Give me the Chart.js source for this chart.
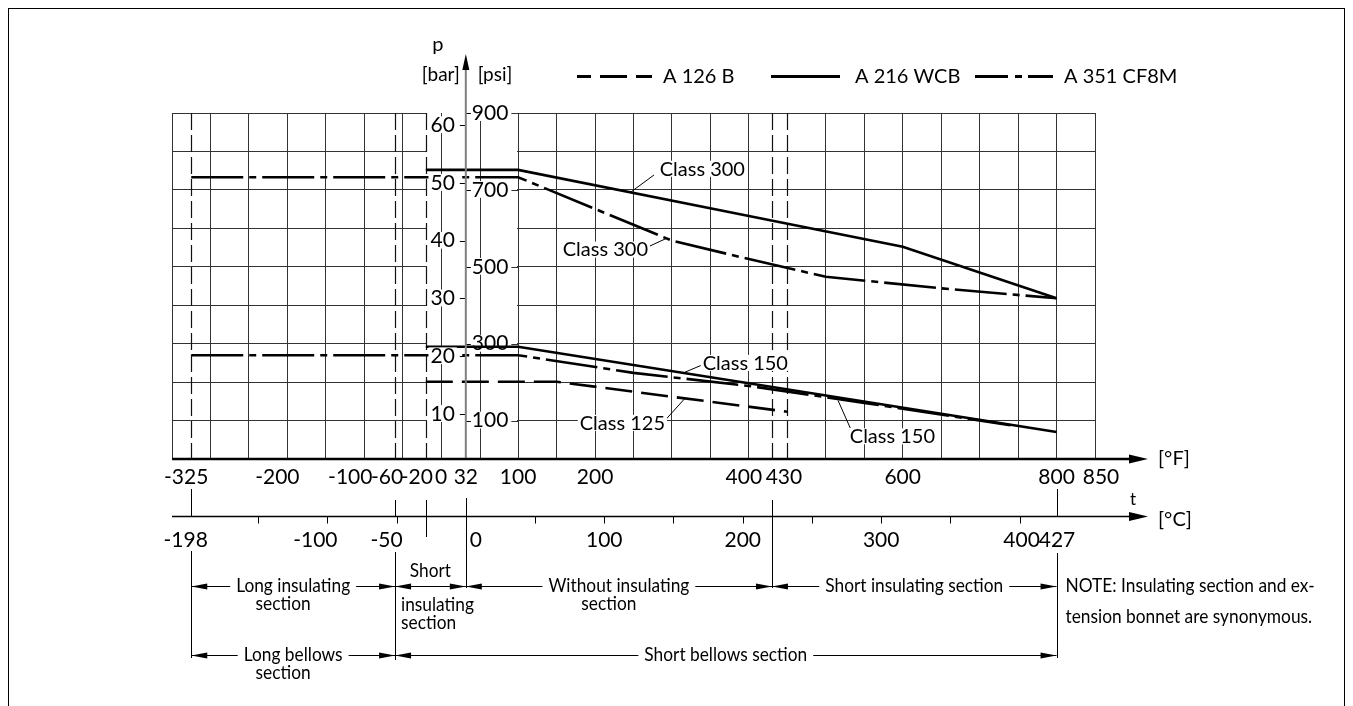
<!DOCTYPE html>
<html>
<head>
<meta charset="utf-8">
<style>
  html, body { margin: 0; padding: 0; background: #fff; }
  #wrap { width: 1353px; height: 706px; }
</style>
<script src="https://cdn.jsdelivr.net/npm/chart.js@4.4.1/dist/chart.umd.min.js"></script>
</head>
<body>
<div id="wrap"><canvas id="pt" width="1353" height="706"></canvas></div>
<script>
/* ===========================
   DATA
   temperature in °F, pressure in psi
=========================== */

const materials = ["A 126 B", "A 216 WCB", "A 351 CF8M"];

const a126Class125T = [-20, 150, 300, 450];
const a126Class125P = [201, 201, 162, 123];

const wcbClass300T = [-20, 100, 400, 600, 800];
const wcbClass300P = [752, 752, 632, 552, 418];

const wcbClass150T = [-20, 100, 800];
const wcbClass150P = [292, 292, 70];

const cf8mClass300T = [-325, 100, 300, 400, 500, 650, 800];
const cf8mClass300P = [733, 733, 568, 520, 474, 444, 418];

const cf8mClass150T = [-325, 100, 250, 400, 550, 740];
const cf8mClass150P = [270, 270, 224, 190, 146, 88];

// axis labels
const fLabels = [-325, -200, -100, -60, -20, 0, 32, 100, 200, 400, 430, 600, 800, 850];
const cLabels = [-198, -100, -50, 0, 100, 200, 300, 400, 427];
const cTicks = [-150, -100, -50, 50, 100, 150, 200, 250, 300, 350, 400];
const barTicks = [10, 20, 30, 40, 50, 60];
const psiTicks = [100, 300, 500, 700, 900];

// section boundaries in °F
const insulSections = [
  { from: -325, to: -60, lines: ["Long insulating", "section"] },
  { from: -60, to: 32, above: "Short", lines: ["insulating", "section"] },
  { from: 32, to: 430, lines: ["Without insulating", "section"] },
  { from: 430, to: 800, lines: ["Short insulating section"] }
];
const bellowsSections = [
  { from: -325, to: -60, lines: ["Long bellows", "section"] },
  { from: -60, to: 800, lines: ["Short bellows section"] }
];
const noteLines = ["NOTE: Insulating section and ex-", "tension bonnet are synonymous."];

/* ===========================
   STYLE HELPERS
=========================== */

const INK = "#000";
const GRID = "#333";
const FONT = 'Lato, "Open Sans", "DejaVu Sans", sans-serif';
const DASHED = [27, 9];
const DASHDOT = [52, 6, 7, 6];
let SX = 0.9;

const px = v => Math.round(v) + 0.5;

function text(ctx, s, x, y, size, align, sx, box) {
  ctx.save();
  ctx.font = size + "px " + FONT;
  ctx.textBaseline = "middle";
  ctx.textAlign = "left";
  const w = ctx.measureText(s).width * sx;
  const left = align === "left" ? x : align === "right" ? x - w : x - w / 2;
  if (box) {
    ctx.fillStyle = "#fff";
    ctx.fillRect(left - 2, y - size * 0.42, w + 4, size * 0.8);
  }
  ctx.fillStyle = INK;
  ctx.translate(left, y);
  ctx.scale(sx, 1);
  ctx.fillText(s, 0, 0);
  ctx.restore();
  return w;
}

function seg(ctx, x1, y1, x2, y2, w, dash, color) {
  ctx.save();
  ctx.strokeStyle = color || INK;
  ctx.lineWidth = w || 1;
  ctx.setLineDash(dash || []);
  ctx.beginPath();
  ctx.moveTo(x1, y1);
  ctx.lineTo(x2, y2);
  ctx.stroke();
  ctx.restore();
}

function head(ctx, x, y, dir, len, half) {
  ctx.save();
  ctx.fillStyle = INK;
  ctx.beginPath();
  ctx.moveTo(x, y);
  if (dir === "r") { ctx.lineTo(x - len, y - half); ctx.lineTo(x - len, y + half); }
  else if (dir === "l") { ctx.lineTo(x + len, y - half); ctx.lineTo(x + len, y + half); }
  else { ctx.lineTo(x - half, y + len); ctx.lineTo(x + half, y + len); }
  ctx.closePath();
  ctx.fill();
  ctx.restore();
}

// dimension line with arrows pointing at both boundaries
function dim(ctx, xa, xb, y, gapA, gapB) {
  if (gapA == null) {
    seg(ctx, xa, px(y), xb, px(y), 1);
  } else {
    seg(ctx, xa, px(y), gapA, px(y), 1);
    seg(ctx, gapB, px(y), xb, px(y), 1);
  }
  head(ctx, xa, px(y), "l", 16, 3);
  head(ctx, xb, px(y), "r", 16, 3);
}

/* ===========================
   DRAWING PLUGIN
=========================== */

const drawing = {
  id: "drawing",

  beforeDatasetsDraw(chart) {
    const { ctx, chartArea: a, scales: { x, y } } = chart;
    const X = v => x.getPixelForValue(v), Y = v => y.getPixelForValue(v);
    ctx.save();
    ctx.font = "20px " + FONT;
    SX = 178 / ctx.measureText("Short insulating section").width;

    // clear the band that holds the pressure axes
    const xl = Math.round(X(-20)) + 1, xr = Math.round(X(100)) - 1;
    ctx.fillStyle = "#fff";
    ctx.fillRect(xl, a.top - 2, xr - xl, a.bottom - a.top + 1);

    [0, 50].forEach(v => seg(ctx, px(X(v)), a.top, px(X(v)), a.bottom, 1, null, GRID));
    [-325, -60, -20, 430, 450].forEach(v =>
      seg(ctx, px(X(v)), a.top, px(X(v)), a.bottom, 1.2, [17, 5], "#111"));

    // psi side of the axis
    const ax = X(32);
    psiTicks.forEach(p => {
      const yy = Y(p);
      const w = text(ctx, String(p), ax + 6, yy, 21, "left", 1, true);
      seg(ctx, ax + 6 + w + 3, px(yy), X(100), px(yy), 1, null, GRID);
      seg(ctx, ax, px(yy), ax + 5, px(yy), 1);
    });
    ctx.restore();
  },

  afterDatasetsDraw(chart) {
    const { ctx, chartArea: a, scales: { x, y, yBar } } = chart;
    const X = v => x.getPixelForValue(v), Y = v => y.getPixelForValue(v);
    const ax = X(32);

    // bar side of the axis
    barTicks.forEach(b => {
      const yy = yBar.getPixelForValue(b);
      text(ctx, String(b), ax - 11, yy, 21, "right", 1, true);
      seg(ctx, ax - 6, px(yy), ax, px(yy), 1);
    });

    // pressure axis with arrow
    seg(ctx, ax, a.bottom, ax, 68, 2, null, "#808080");
    head(ctx, ax, 54, "u", 16, 3.5);
    text(ctx, "p", ax - 28, 45, 20, "center", 1);
    text(ctx, "[bar]", ax - 6, 75, 19, "right", 1);
    text(ctx, "[psi]", ax + 12, 75, 19, "left", 1);

    // class labels with leaders (data units)
    const notes = [
      { s: "Class 300", at: [339.5, 754], from: [276.6, 738.7], to: [247, 695] },
      { s: "Class 300", at: [213.4, 543.6], from: [269.3, 552.2], to: [293, 574] },
      { s: "Class 150", at: [395.4, 248.9], from: [339.1, 244.5], to: [317, 226] },
      { s: "Class 125", at: [235.5, 92.9], from: [291.4, 101.4], to: [317, 158] },
      { s: "Class 150", at: [586.6, 58], from: [531.8, 80.6], to: [516, 152] }
    ];
    notes.forEach(n => {
      seg(ctx, X(n.from[0]), Y(n.from[1]), X(n.to[0]), Y(n.to[1]), 1);
      text(ctx, n.s, X(n.at[0]), Y(n.at[1]), 20, "center", 1, true);
    });
  },

  afterDraw(chart) {
    const { ctx, chartArea: a, scales: { x } } = chart;
    const X = v => x.getPixelForValue(v);
    const cToF = c => c * 1.8 + 32;

    // legend
    const ly = 76.5;
    ctx.save();
    ctx.lineWidth = 3;
    ctx.strokeStyle = INK;
    ctx.setLineDash(DASHED); ctx.lineDashOffset = 13;
    ctx.beginPath(); ctx.moveTo(577, ly); ctx.lineTo(652, ly); ctx.stroke();
    ctx.setLineDash([]); ctx.lineDashOffset = 0;
    ctx.beginPath(); ctx.moveTo(771, ly); ctx.lineTo(840, ly); ctx.stroke();
    ctx.setLineDash([33, 7, 7, 6]);
    ctx.beginPath(); ctx.moveTo(975, ly); ctx.lineTo(1053, ly); ctx.stroke();
    ctx.restore();
    text(ctx, materials[0], 663, ly, 20, "left", 1);
    text(ctx, materials[1], 855, ly, 20, "left", 1);
    text(ctx, materials[2], 1064, ly, 20, "left", 1);

    // °F axis
    const fy = a.bottom;
    seg(ctx, a.left, fy, 1132, fy, 2.6);
    head(ctx, 1148, fy, "r", 19, 4.5);
    text(ctx, "[°F]", 1158, fy, 20, "left", 1);
    const fNudge = { "-325": -5, "-200": -10, "-100": -14, "-60": -8, "-20": -9, "400": -5, "430": 12, "850": 6 };
    fLabels.forEach(v => text(ctx, String(v), X(v) + (fNudge[v] || 0), 477, 21, "center", 1));

    // °C axis
    const cy = 516.5;
    seg(ctx, a.left, cy, 1132, cy, 1.5);
    head(ctx, 1148, cy, "r", 19, 4.5);
    text(ctx, "t", 1133, 500, 17, "center", 1);
    text(ctx, "[°C]", 1158, cy + 3, 20, "left", 1);
    cTicks.forEach(c => seg(ctx, px(X(cToF(c))), cy, px(X(cToF(c))), cy + 7, 1));
    const cNudge = { "-198": -6, "-100": -12, "-50": -10, "400": 2 };
    cLabels.forEach(c => {
      if (c === 0) text(ctx, "0", X(cToF(c)) + 4, 540, 21, "left", 1);
      else text(ctx, String(c), X(cToF(c)) + (cNudge[c] || 0), 540, 21, "center", 1);
    });

    // connectors between the axes and the section rows
    const r1 = 586, r2 = 655;
    const conn = [
      [-325, 489, 517], [-325, 551, r2 + 3],
      [-60, 500, 517], [-60, 552, r2 + 5],
      [-20, 500, 537],
      [32, 498, r1 + 2],
      [430, 500, r1 + 2],
      [800, 489, 517], [800, 553, r2 + 3]
    ];
    conn.forEach(([v, y1, y2]) => seg(ctx, px(X(v)), y1, px(X(v)), y2, 1));

    function row(list, ry) {
      list.forEach(s => {
        const xa = X(s.from), xb = X(s.to), mid = (xa + xb) / 2;
        if (s.above) {
          dim(ctx, xa, xb, ry);
          text(ctx, s.above, mid, ry - 15, 20, "center", SX);
          s.lines.forEach((l, i) => text(ctx, l, xa + 6, ry + 19 + i * 18, 20, "left", SX));
          return;
        }
        ctx.font = "20px " + FONT;
        const w = ctx.measureText(s.lines[0]).width * SX;
        dim(ctx, xa, xb, ry, mid - w / 2 - 6, mid + w / 2 + 6);
        text(ctx, s.lines[0], mid, ry, 20, "center", SX);
        s.lines.slice(1).forEach((l, i) => text(ctx, l, mid - 10, ry + 18 + i * 18, 20, "center", SX));
      });
    }
    row(insulSections, r1);
    row(bellowsSections, r2);

    noteLines.forEach((l, i) => text(ctx, l, X(800) + 9, r1 + i * 31, 20, "left", SX));

    // frame
    ctx.save();
    ctx.strokeStyle = INK;
    ctx.lineWidth = 1;
    ctx.strokeRect(8.5, 8.5, 1336, 720);
    ctx.restore();
  }
};

/* ===========================
   CHART
=========================== */

const pts = (t, p) => t.map((v, i) => ({ x: v, y: p[i] }));
const curve = (label, t, p, dash) => ({
  label,
  data: pts(t, p),
  borderColor: INK,
  borderWidth: 2.6,
  borderDash: dash,
  pointRadius: 0,
  fill: false,
  tension: 0
});

const gridColor = c => (c.tick && c.tick.value === 450 ? "rgba(0,0,0,0)" : GRID);

new Chart(document.getElementById("pt").getContext("2d"), {
  type: "line",
  data: {
    datasets: [
      curve(materials[0] + " Class 125", a126Class125T, a126Class125P, DASHED),
      curve(materials[1] + " Class 300", wcbClass300T, wcbClass300P, []),
      curve(materials[1] + " Class 150", wcbClass150T, wcbClass150P, []),
      curve(materials[2] + " Class 300", cf8mClass300T, cf8mClass300P, DASHDOT),
      curve(materials[2] + " Class 150", cf8mClass150T, cf8mClass150P, DASHDOT)
    ]
  },
  options: {
    responsive: false,
    animation: false,
    layout: { padding: { left: 172, top: 113, right: 258, bottom: 247 } },
    plugins: {
      legend: { display: false },
      tooltip: { enabled: false }
    },
    scales: {
      x: {
        type: "linear",
        min: -350,
        max: 850,
        ticks: { display: false, stepSize: 50 },
        grid: { color: gridColor, lineWidth: 1, drawTicks: false },
        border: { display: false }
      },
      y: {
        min: 0,
        max: 900,
        ticks: { display: false, stepSize: 100 },
        grid: { color: GRID, lineWidth: 1, drawTicks: false },
        border: { display: false }
      },
      yBar: { display: false, position: "left", min: 2.2, max: 62.1 }
    }
  },
  plugins: [drawing]
});
</script>
</body>
</html>
